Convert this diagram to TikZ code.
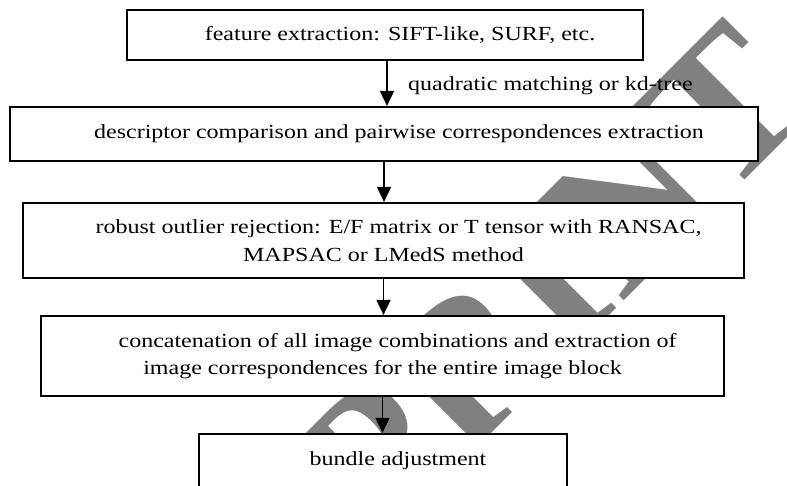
\documentclass[tikz,border=0pt]{standalone}
\usepackage{fontspec}
\setmainfont{Liberation Serif}[FakeStretch=1.2]
\newfontfamily\stampfont{Liberation Serif}
\usetikzlibrary{arrows.meta}
\definecolor{markgray}{HTML}{808080}
\tikzset{
  stage/.style={draw=black, line width=2.2pt, fill=white, inner sep=0pt,
    align=center, font=\fontsize{20}{27.5}\selectfont},
  flow/.style={line width=1.8pt, -{Triangle[width=14pt,length=15pt]}},
  note/.style={font=\fontsize{20}{24}\selectfont, inner sep=0pt},
  stamp/.style={text=markgray, font=\stampfont\bfseries\fontsize{200}{200}\selectfont, inner sep=0pt}
}
\newcommand{\firstind}{\hspace*{30pt}}
\begin{document}
\begin{tikzpicture}[x=1pt,y=-1pt]
\useasboundingbox (0,0) rectangle (787,485);
% diagonal watermark behind everything else
\node[stamp, rotate=45, anchor=base west] (wm) at (95,830) {PREPRINT};
% edge label
\node[note, anchor=west] (lbl) at (408,86) {quadratic matching or kd-tree};
% processing stages
\node[stage, minimum width=516pt, minimum height=50pt] (b1) at (385,35)
  {\firstind feature extraction: SIFT-like, SURF, etc.};
\node[stage, minimum width=748pt, minimum height=54pt] (b2) at (384,134)
  {\firstind descriptor comparison and pairwise correspondences extraction};
\node[stage, minimum width=721pt, minimum height=75pt] (b3) at (383.5,240.5)
  {\firstind robust outlier rejection: E/F matrix or T tensor with RANSAC,\\ MAPSAC or LMedS method};
\node[stage, minimum width=683pt, minimum height=80pt] (b4) at (382.5,356)
  {\firstind concatenation of all image combinations and extraction of\\ image correspondences for the entire image block};
\node[stage, minimum width=368pt, minimum height=53pt] (b5) at (383,460.5)
  {\firstind bundle adjustment};
% connectors
\draw[flow] ([xshift=2pt]b1.south) -- ([xshift=2pt]b1.south |- b2.north);
\draw[flow] (b2.south) -- (b2.south |- b3.north);
\draw[flow] (b3.south) -- (b3.south |- b4.north);
\draw[flow] (b4.south) -- (b4.south |- b5.north);
\end{tikzpicture}
\end{document}
